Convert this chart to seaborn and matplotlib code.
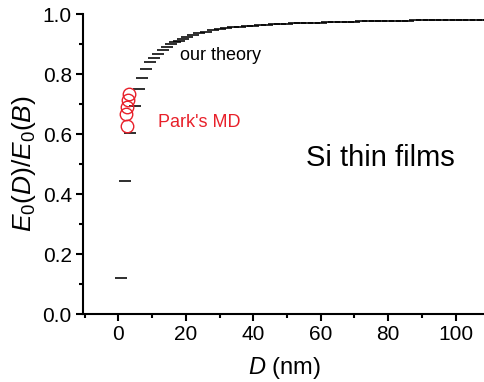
import numpy as np
import pandas as pd
import matplotlib
matplotlib.use("Agg")
import matplotlib.pyplot as plt
import seaborn as sns

# ---- data ----
theory_D = [0.9, 2.1, 3.5, 4.8, 6.1, 7.1, 8.2, 9.3, 10.6, 11.9, 13.1, 14.3, 15.5,
            16.7, 17.9, 19.1, 20.3, 22, 24, 26, 28, 30, 32, 34, 36, 38, 40, 42,
            44, 46, 48, 50, 52, 54, 56, 58, 60, 62, 64, 66, 68, 70, 72, 74, 76,
            78, 80, 82, 84, 86, 88, 90, 92, 94, 96, 98, 100, 102, 104, 106, 108, 110]
theory_E = [0.121, 0.443, 0.604, 0.694, 0.750, 0.788, 0.818, 0.839, 0.855, 0.868,
            0.882, 0.891, 0.899, 0.906, 0.912, 0.918, 0.923, 0.931, 0.937, 0.942,
            0.946, 0.950, 0.953, 0.9555, 0.958, 0.960, 0.9615, 0.963, 0.9645, 0.9657,
            0.9668, 0.9678, 0.9688, 0.9697, 0.9705, 0.9713, 0.972, 0.9727, 0.9734, 0.974,
            0.9746, 0.9751, 0.9756, 0.9761, 0.9766, 0.977, 0.9774, 0.9778, 0.9782, 0.9785,
            0.9788, 0.9791, 0.9794, 0.9797, 0.98, 0.9802, 0.9805, 0.9807, 0.981, 0.9812,
            0.9814, 0.9816]
md_D = [2.5, 2.3, 2.7, 3.0, 3.2]
md_E = [0.627, 0.667, 0.690, 0.712, 0.735]

x_ticks = [0, 20, 40, 60, 80, 100]
y_ticks = [0.0, 0.2, 0.4, 0.6, 0.8, 1.0]

theory = pd.DataFrame({"D": theory_D, "E": theory_E})
md = pd.DataFrame({"D": md_D, "E": md_E})

sns.set_style("ticks")
plt.rcParams["font.family"] = ["Liberation Sans", "DejaVu Sans"]
plt.rcParams["mathtext.fontset"] = "custom"
plt.rcParams["mathtext.rm"] = "Liberation Sans"
plt.rcParams["mathtext.it"] = "Liberation Sans:italic"
plt.rcParams["text.color"] = "black"
plt.rcParams["axes.labelcolor"] = "black"

RED = "#E8202A"

fig = plt.figure(figsize=(4.85, 3.82), dpi=100)
ax = fig.add_axes([0.171, 0.178, 0.829, 0.785])

sns.lineplot(data=theory, x="D", y="E", ax=ax, estimator=None, sort=False,
             linestyle="none", marker="_", markersize=9, markeredgewidth=1.15,
             color="black", markeredgecolor="black")
sns.lineplot(data=md, x="D", y="E", ax=ax, estimator=None, sort=False,
             linestyle="none", marker="o", markersize=9,
             markerfacecolor="none", markeredgecolor=RED, markeredgewidth=1.0)

ax.set_xlim(-10.5, 108.7)
ax.set_ylim(0, 1.0)
ax.set_xticks(x_ticks)
ax.set_yticks(y_ticks)
ax.set_yticklabels([f"{v:.1f}" for v in y_ticks])
ax.set_xticks(np.arange(-10, 110, 10), minor=True)
ax.set_yticks(np.arange(0, 1.01, 0.1), minor=True)

for s in ["top", "right"]:
    ax.spines[s].set_visible(False)
for s in ["left", "bottom"]:
    ax.spines[s].set_linewidth(1.5)
    ax.spines[s].set_color("black")

ax.tick_params(which="major", direction="out", length=5, width=1.5,
               labelsize=15, colors="black", pad=3)
ax.tick_params(which="minor", direction="out", length=3, width=1.5,
               colors="black")

ax.set_xlabel(r"$D$ (nm)", fontsize=17, labelpad=8)
ax.set_ylabel(r"$E_0(D)/E_0(B)$", fontsize=19, labelpad=3)

ax.text(18.3, 0.863, "our theory", fontsize=13, color="black", ha="left", va="center")
ax.text(11.8, 0.64, "Park's MD", fontsize=13, color=RED, ha="left", va="center")
ax.text(55.6, 0.52, "Si thin films", fontsize=21, color="black", ha="left", va="center")

fig.savefig("out.png", dpi=100)
